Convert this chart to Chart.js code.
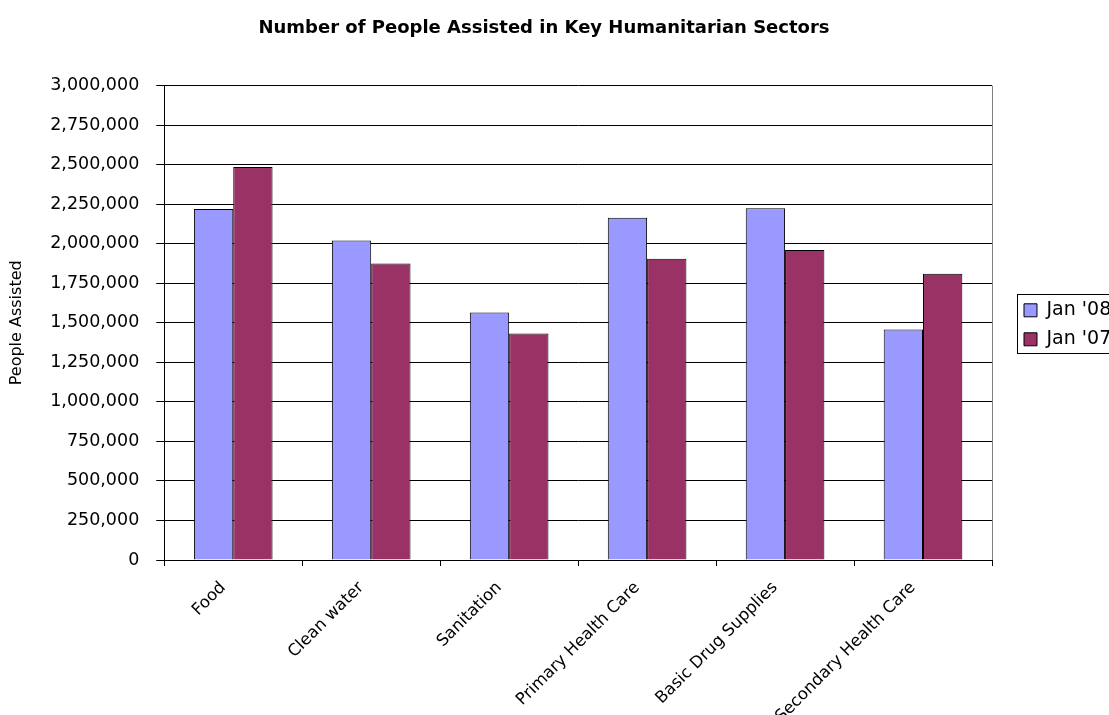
<!DOCTYPE html>
<html>
<head>
<meta charset="utf-8">
<title>Number of People Assisted in Key Humanitarian Sectors</title>
<script src="https://cdn.jsdelivr.net/npm/chart.js@4/dist/chart.umd.min.js"></script>
<style>
  html, body { margin: 0; padding: 0; background: #fff; }
  #wrap { width: 1109px; height: 715px; overflow: hidden; }
</style>
</head>
<body>
<div id="wrap"><canvas id="peopleChart" width="1109" height="715"></canvas></div>
<script>
// Chart data
const sectors = ["Food", "Clean water", "Sanitation", "Primary Health Care", "Basic Drug Supplies", "Secondary Health Care"];
const jan08 = [2220000, 2020000, 1565000, 2165000, 2225000, 1457000];
const jan07 = [2485000, 1875000, 1432000, 1905000, 1960000, 1810000];
const seriesLabels = ["Jan '08", "Jan '07"];
const yMin = 0;
const yMax = 3000000;
const yStep = 250000;

const fontFamily = "'DejaVu Sans', Verdana, sans-serif";

// Moves the legend next to the plot, centred on it, and draws its frame
const legendFrame = {
  id: "legendFrame",
  afterLayout(chart) {
    const lg = chart.legend;
    const area = chart.chartArea;
    const dy = (area.top + area.bottom) / 2 + 2 - (lg.top + lg.bottom) / 2;
    lg.left += 22;
    lg.right += 22;
    lg.top += dy;
    lg.bottom += dy;
  },
  afterDraw(chart) {
    const lg = chart.legend;
    const ctx = chart.ctx;
    const cy = (lg.top + lg.bottom) / 2;
    ctx.save();
    ctx.strokeStyle = "#000";
    ctx.lineWidth = 1;
    ctx.strokeRect(Math.round(lg.left + 3) + 0.5, Math.round(cy - 31) + 0.5, 200, 59);
    // right border of the plot area
    const area = chart.chartArea;
    ctx.strokeStyle = "#808080";
    ctx.beginPath();
    ctx.moveTo(Math.round(area.right) + 0.5, area.top);
    ctx.lineTo(Math.round(area.right) + 0.5, area.bottom);
    ctx.stroke();
    ctx.restore();
  }
};

const ctx = document.getElementById("peopleChart").getContext("2d");

new Chart(ctx, {
  type: "bar",
  data: {
    labels: sectors,
    datasets: [
      {
        label: seriesLabels[0],
        data: jan08,
        backgroundColor: "#9999FF",
        borderColor: "#000",
        borderWidth: 1
      },
      {
        label: seriesLabels[1],
        data: jan07,
        backgroundColor: "#993366",
        borderColor: "#000",
        borderWidth: 1
      }
    ]
  },
  options: {
    responsive: false,
    animation: false,
    devicePixelRatio: 1,
    layout: { padding: { left: 0, right: 21, top: 0, bottom: 0 } },
    datasets: {
      bar: { categoryPercentage: 0.57, barPercentage: 1.0 }
    },
    plugins: {
      title: {
        display: true,
        text: "Number of People Assisted in Key Humanitarian Sectors",
        color: "#000",
        font: { family: fontFamily, size: 18, weight: "bold" },
        padding: { top: 18, bottom: 46 }
      },
      legend: {
        position: "right",
        maxWidth: 96,
        labels: {
          color: "#000",
          font: { family: fontFamily, size: 19 },
          boxWidth: 13,
          boxHeight: 13,
          padding: 10
        }
      },
      tooltip: { enabled: false }
    },
    scales: {
      x: {
        afterFit: scale => { scale.height = 155; },
        grid: {
          display: true,
          drawOnChartArea: false,
          drawTicks: true,
          tickLength: 6,
          color: "#000",
          offset: true
        },
        border: { color: "#000", width: 1 },
        ticks: {
          color: "#000",
          font: { family: fontFamily, size: 16.5 },
          maxRotation: 45,
          minRotation: 45,
          autoSkip: false,
          padding: 12,
          labelOffset: -10
        }
      },
      y: {
        min: yMin,
        max: yMax,
        grid: {
          color: "#000",
          tickLength: 8,
          drawTicks: true
        },
        border: { color: "#000", width: 1 },
        ticks: {
          stepSize: yStep,
          color: "#000",
          padding: 17,
          font: { family: fontFamily, size: 17.5 },
          callback: value => value.toLocaleString("en-US")
        },
        title: {
          display: true,
          text: "People Assisted",
          color: "#000",
          font: { family: fontFamily, size: 16 },
          padding: { top: 7, bottom: 7 }
        }
      }
    }
  },
  plugins: [legendFrame]
});
</script>
</body>
</html>
